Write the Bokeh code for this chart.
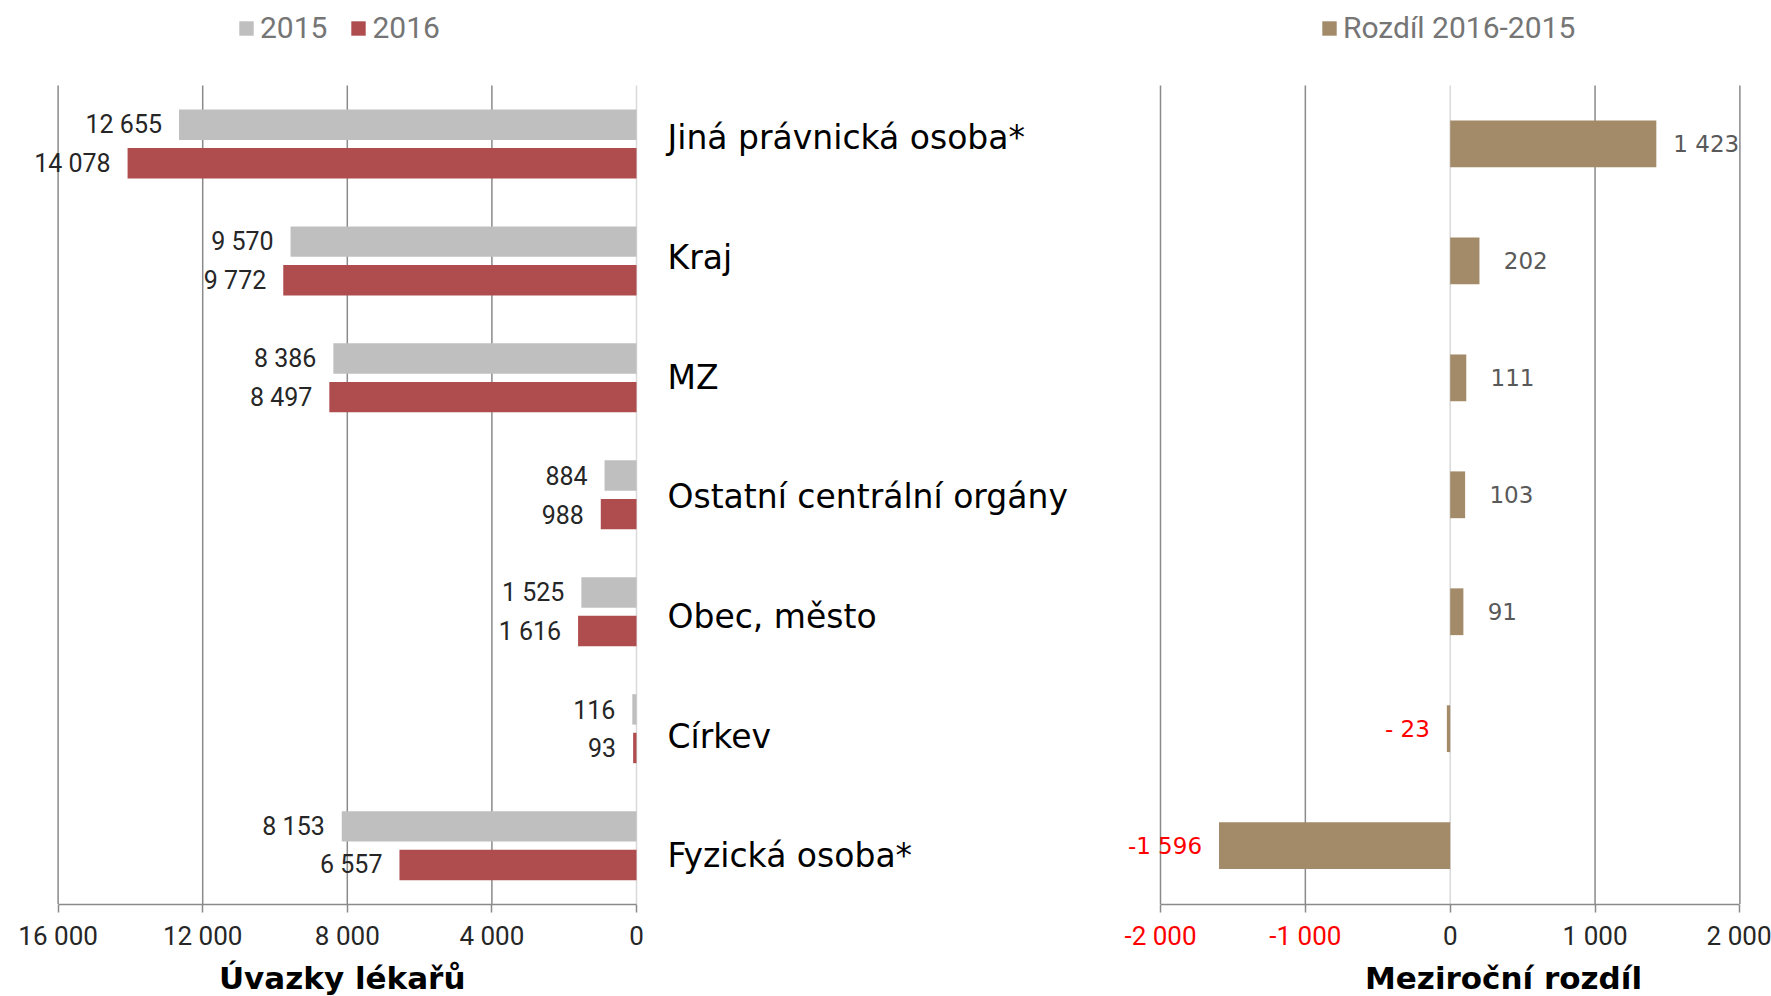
from bokeh.plotting import figure
from bokeh.models import (ColumnDataSource, Range1d, FixedTicker, Legend,
                          LegendItem, Label, LinearAxis)
from bokeh.layouts import row
from bokeh.embed import file_html
from bokeh.resources import INLINE
from bokeh.core.properties import value

# ---------------- data ----------------
categories = ["Jiná právnická osoba*", "Kraj", "MZ", "Ostatní centrální orgány",
              "Obec, město", "Církev", "Fyzická osoba*"]
v2015 = [12655, 9570, 8386, 884, 1525, 116, 8153]
v2016 = [14078, 9772, 8497, 988, 1616, 93, 6557]
diff = [1423, 202, 111, 103, 91, -23, -1596]
left_ticks = [0, 4000, 8000, 12000, 16000]
right_ticks = [-2000, -1000, 0, 1000, 2000]
series_names = ["2015", "2016"]
diff_name = "Rozdíl 2016-2015"
left_title = "Úvazky lékařů"
right_title = "Meziroční rozdíl"

# ---------------- styles ----------------
C2015 = "#BFBFBF"
C2016 = "#AF4C4E"
CDIFF = "#A38A68"
GRID = "#8A8A8A"
ZERO = "#D9D9D9"
NARROW = "Roboto"
SANS = "DejaVu Sans"
LABEL_SPACING = 1.023   # category-label axis is slightly taller than the bar area


def fmt(v):
    s = f"{abs(v):,}".replace(",", "\u00a0")
    return ("-" if v < 0 else "") + s


def fmt_pad(v):
    s = f"{abs(v):,}".replace(",", "\u00a0")
    if abs(v) < 1000:
        s = "\u00a0" + s
    return ("-" if v < 0 else "") + s


n = len(categories)
idx = list(range(n))

# ---------------- layout (pixels) ----------------
H = 996
BAND_TOP = 85.0       # top of category area
BAND_BOT = 903.6      # axis line
BAND = (BAND_BOT - BAND_TOP) / n
y_top = -0.5 - BAND_TOP / BAND
y_bot = (n - 0.5) + (H - BAND_BOT) / BAND

LW = 1100
L_MAX_PX, L_ZERO_PX = 57.6, 636.0
lmax = max(left_ticks)
kl = (L_ZERO_PX - L_MAX_PX) / lmax
l_start = lmax + L_MAX_PX / kl
l_end = -(LW - L_ZERO_PX) / kl

RW = 671
R_MIN_PX, R_MAX_PX = 60.0, 639.4   # inside right canvas
rmin, rmax = min(right_ticks), max(right_ticks)
kr = (R_MAX_PX - R_MIN_PX) / (rmax - rmin)
r_start = rmin - R_MIN_PX / kr
r_end = rmax + (RW - R_MAX_PX) / kr


def base_fig(w, xr):
    p = figure(width=w, height=H, output_backend="svg", toolbar_location=None,
               x_range=xr, y_range=Range1d(y_bot, y_top),
               min_border=0, min_border_left=0, min_border_right=0,
               min_border_top=0, min_border_bottom=0, x_axis_location=None,
               y_axis_location=None)
    p.outline_line_color = None
    p.background_fill_color = None
    p.border_fill_color = None
    p.grid.visible = False
    return p


def style_axis(ax, ticks, overrides, color):
    ax.fixed_location = n - 0.5
    ax.ticker = FixedTicker(ticks=ticks)
    ax.major_label_overrides = overrides
    ax.axis_line_color = GRID
    ax.axis_line_width = 1.5
    ax.major_tick_line_color = GRID
    ax.major_tick_line_width = 1.5
    ax.major_tick_in = 0
    ax.major_tick_out = 8
    ax.minor_tick_line_color = None
    ax.major_label_standoff = 9
    ax.major_label_text_font = NARROW
    ax.major_label_text_font_size = "26px"
    ax.major_label_text_color = color


def style_legend(leg):
    leg.glyph_width = 18
    leg.glyph_height = 18
    leg.label_standoff = 5
    leg.spacing = 22
    leg.padding = 0
    leg.margin = 0
    leg.border_line_color = None
    leg.background_fill_alpha = 0
    leg.label_text_font = NARROW
    leg.label_text_font_size = "30px"
    leg.label_text_color = "#757575"


# ================= left figure =================
pl = base_fig(LW, Range1d(l_start, l_end))

src = ColumnDataSource(dict(
    cat=categories, y=idx, ylab=[i * LABEL_SPACING for i in idx],
    y15=[i - 0.165 for i in idx], y16=[i + 0.165 for i in idx],
    v15=v2015, v16=v2016,
    l15=[fmt(v) for v in v2015], l16=[fmt(v) for v in v2016],
))

gl = [t for t in left_ticks if t != 0]
pl.segment(x0=gl, y0=[-0.5] * len(gl), x1=gl, y1=[n - 0.5] * len(gl),
           line_color=GRID, line_width=1.5)
pl.segment(x0=[0], y0=[-0.5], x1=[0], y1=[n - 0.5], line_color=ZERO, line_width=1.5)

r15 = pl.hbar(y="y15", left=0, right="v15", height=0.26, source=src,
              fill_color=C2015, line_color=None)
r16 = pl.hbar(y="y16", left=0, right="v16", height=0.26, source=src,
              fill_color=C2016, line_color=None)

for yk, tk in (("y15", "l15"), ("y16", "l16")):
    pl.text(x=yk.replace("y", "v"), y=yk, text=tk, source=src, x_offset=-17,
            text_align="right", text_baseline="middle", text_font=value(NARROW),
            text_font_size="25px", text_color="#262626")
pl.text(x=0, y="ylab", text="cat", source=src, x_offset=31, y_offset=-6,
        text_align="left", text_baseline="middle", text_font=value(SANS),
        text_font_size="33px", text_color="#000000")

axl = LinearAxis()
style_axis(axl, left_ticks, {t: fmt(t) for t in left_ticks}, "#262626")
axl.bounds = (0, lmax)
pl.add_layout(axl, "below")

left_title_x = lmax - (341.7 - L_MAX_PX) / kl
pl.add_layout(Label(x=left_title_x, y=H - 977, x_units="data", y_units="screen",
                    text=left_title, text_align="center", text_baseline="middle",
                    text_font=SANS, text_font_style="bold", text_font_size="31px",
                    text_color="#000000"))

leg_l = Legend(items=[LegendItem(label=series_names[0], renderers=[r15]),
                      LegendItem(label=series_names[1], renderers=[r16])],
               orientation="horizontal", location=(237, H - 27 - 18))
style_legend(leg_l)
pl.add_layout(leg_l, "center")

# ================= right figure =================
pr = base_fig(RW, Range1d(r_start, r_end))

dsrc = ColumnDataSource(dict(
    y=idx, d=diff, lab=[fmt_pad(v) for v in diff],
    col=["#FF0000" if v < 0 else "#595959" for v in diff],
    align=["right" if v < 0 else "left" for v in diff],
    off=[-17 if v < 0 else 17 for v in diff],
))

gr = [t for t in right_ticks if t != 0]
pr.segment(x0=gr, y0=[-0.5] * len(gr), x1=gr, y1=[n - 0.5] * len(gr),
           line_color=GRID, line_width=1.5)
pr.segment(x0=[0], y0=[-0.5], x1=[0], y1=[n - 0.5], line_color=ZERO, line_width=1.5)

rd = pr.hbar(y="y", left=0, right="d", height=0.4, source=dsrc,
             fill_color=CDIFF, line_color=None)
pr.text(x="d", y="y", text="lab", source=dsrc, x_offset="off",
        text_align="align", text_baseline="middle", text_font=value(SANS),
        text_font_size="23px", text_color="col")

axr = LinearAxis()
style_axis(axr, right_ticks, {t: (fmt(t) if t >= 0 else "") for t in right_ticks},
           "#262626")
axr.bounds = (rmin, rmax)
pr.add_layout(axr, "below")

neg_ticks = [t for t in right_ticks if t < 0]
axn = LinearAxis()
style_axis(axn, neg_ticks, {t: fmt(t) for t in neg_ticks}, "#FF0000")
axn.axis_line_color = None
axn.major_tick_line_color = None
axn.bounds = (rmin, rmax)
pr.add_layout(axn, "below")

right_title_x = rmin + (1503 - LW - R_MIN_PX) / kr
pr.add_layout(Label(x=right_title_x, y=H - 977, x_units="data", y_units="screen",
                    text=right_title, text_align="center", text_baseline="middle",
                    text_font=SANS, text_font_style="bold", text_font_size="31px",
                    text_color="#000000"))

leg_r = Legend(items=[LegendItem(label=diff_name, renderers=[rd])],
               orientation="horizontal", location=(1320 - LW, H - 27 - 18))
style_legend(leg_r)
pr.add_layout(leg_r, "center")

layout = row(pl, pr, spacing=0)
open("out.html", "w").write(file_html(layout, INLINE))
